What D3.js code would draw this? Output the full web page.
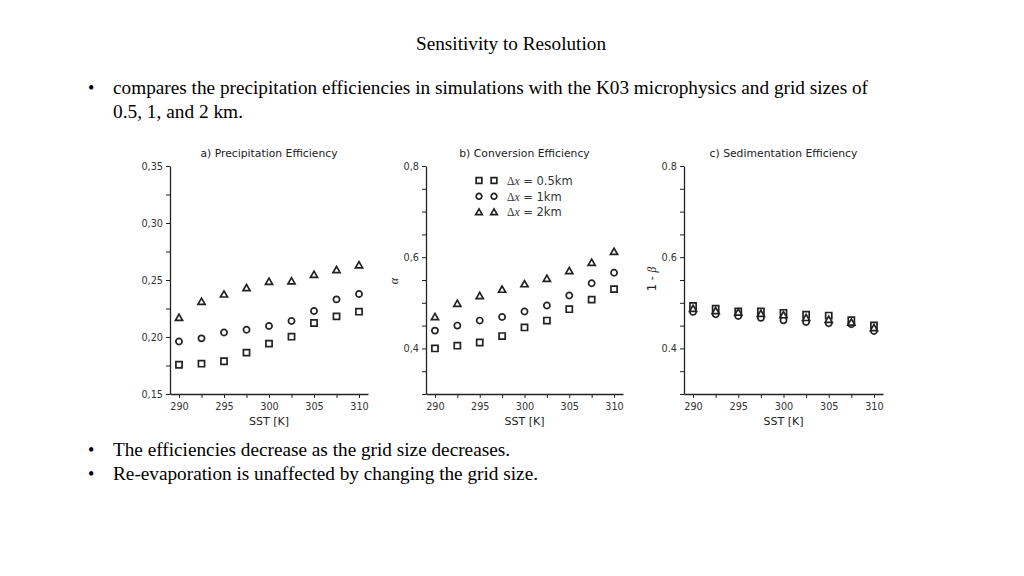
<!DOCTYPE html>
<html><head><meta charset="utf-8">
<script src="https://cdn.jsdelivr.net/npm/d3@7"></script>
<style>
body{margin:0;background:#fff;}
svg{display:block;}
</style></head>
<body>
<svg id="c" width="1024" height="576"></svg>
<script>
// ---- data ----
const sst = [290, 292.5, 295, 297.5, 300, 302.5, 305, 307.5, 310];
const gridLabels = ["0.5km", "1km", "2km"];
const precip05 = [0.1757, 0.1766, 0.1787, 0.1863, 0.1942, 0.2003, 0.2123, 0.2181, 0.2222];
const precip1  = [0.1960, 0.1988, 0.2040, 0.2064, 0.2097, 0.2140, 0.2228, 0.2330, 0.2377];
const precip2  = [0.2170, 0.2310, 0.2374, 0.2430, 0.2485, 0.2490, 0.2547, 0.2588, 0.2630];
const conv05 = [0.400, 0.406, 0.413, 0.427, 0.446, 0.461, 0.486, 0.507, 0.530];
const conv1  = [0.439, 0.450, 0.461, 0.469, 0.481, 0.494, 0.516, 0.543, 0.566];
const conv2  = [0.469, 0.498, 0.515, 0.529, 0.541, 0.553, 0.570, 0.588, 0.612];
const sed05 = [0.493, 0.487, 0.481, 0.481, 0.478, 0.474, 0.472, 0.462, 0.4505];
const sed1  = [0.480, 0.475, 0.471, 0.467, 0.4615, 0.458, 0.455, 0.453, 0.438];
const sed2  = [0.487, 0.482, 0.479, 0.476, 0.473, 0.467, 0.463, 0.457, 0.445];
const xTicks = [290, 292.5, 295, 297.5, 300, 302.5, 305, 307.5, 310];
const xTickLabels = [290, 295, 300, 305, 310];
const yTicksA = [0.15, 0.175, 0.2, 0.225, 0.25, 0.275, 0.3, 0.325, 0.35];
const yLabelsA = [0.15, 0.2, 0.25, 0.3, 0.35];
const yTicksBC = [0.3, 0.35, 0.4, 0.45, 0.5, 0.55, 0.6, 0.65, 0.7, 0.75, 0.8];
const yLabelsBC = [0.4, 0.6, 0.8];

const svg = d3.select("#c");
const serif = "'Liberation Serif','Times New Roman',serif";
const sans = "'DejaVu Sans',sans-serif";
const ink = "#222";

// slide text
svg.append("text").attr("x", 511).attr("y", 50).attr("text-anchor", "middle")
  .attr("textLength", 190).attr("lengthAdjust", "spacingAndGlyphs")
  .style("font-family", serif).style("font-size", "18px").text("Sensitivity to Resolution");
const bullets = [
  {y: 94, lines: [["compares the precipitation efficiencies in simulations with the K03 microphysics and grid sizes of", 755], ["0.5, 1, and 2 km.", 130]]},
  {y: 456, lines: [["The efficiencies decrease as the grid size decreases.", 397]]},
  {y: 480, lines: [["Re-evaporation is unaffected by changing the grid size.", 425]]}
];
bullets.forEach(b => {
  svg.append("text").attr("x", 88).attr("y", b.y).style("font-family", serif).style("font-size", "18px").text("•");
  b.lines.forEach((l, i) => {
    svg.append("text").attr("x", 113).attr("y", b.y + i * 24)
      .attr("textLength", l[1]).attr("lengthAdjust", "spacingAndGlyphs")
      .style("font-family", serif).style("font-size", "18px").text(l[0]);
  });
});

const panels = [
  {left: 170, right: 368, title: "a) Precipitation Efficiency", dom: [0.15, 0.35], ticks: yTicksA, labels: yLabelsA,
   fmt: v => d3.format(".2f")(v).replace(".", ","), series: [precip05, precip1, precip2]},
  {left: 426, right: 623, title: "b) Conversion Efficiency", dom: [0.3, 0.8], ticks: yTicksBC, labels: yLabelsBC,
   fmt: v => d3.format(".1f")(v).replace(".", ","), series: [conv05, conv1, conv2], ylab: "alpha", legend: true},
  {left: 684, right: 883, title: "c) Sedimentation Efficiency", dom: [0.3, 0.8], ticks: yTicksBC, labels: yLabelsBC,
   fmt: v => d3.format(".1f")(v), series: [sed05, sed1, sed2], ylab: "beta"}
];
const topY = 166, bottomY = 394;
const shapes = [d3.symbolSquare, d3.symbolCircle, d3.symbolTriangle];
const sizes = [38, 30, 22];

function drawMarker(g, k, x, y, sc = 1) {
  g.append("path").attr("d", d3.symbol().type(shapes[k]).size(sizes[k] * sc)())
    .attr("transform", `translate(${x},${y + (k === 2 ? 0.6 : 0)})`)
    .attr("fill", "#fff").attr("stroke", ink).attr("stroke-width", 1.7);
}

panels.forEach(p => {
  const x = d3.scaleLinear().domain([289, 311]).range([p.left, p.right]);
  const y = d3.scaleLinear().domain(p.dom).range([bottomY, topY]);
  const g = svg.append("g");
  const ax = g.append("g").attr("transform", `translate(0,${bottomY})`)
    .call(d3.axisBottom(x).tickValues(xTicks).tickSize(4).tickSizeOuter(0)
      .tickFormat(v => xTickLabels.includes(v) ? d3.format("d")(v) : ""));
  const ay = g.append("g").attr("transform", `translate(${p.left},0)`)
    .call(d3.axisLeft(y).tickValues(p.ticks).tickSize(4).tickSizeOuter(0)
      .tickFormat(v => p.labels.some(l => Math.abs(l - v) < 1e-9) ? p.fmt(v) : ""));
  [ax, ay].forEach(a => {
    a.select(".domain").attr("stroke", ink).attr("stroke-width", 1.3);
    a.selectAll(".tick line").attr("stroke", ink).attr("stroke-width", 1);
    a.selectAll("text").style("font-family", sans).style("font-size", "9.7px").attr("fill", "#333");
  });
  ax.selectAll("text").attr("dy", "0.9em");
  g.append("text").attr("x", (p.left + p.right) / 2).attr("y", 157).attr("text-anchor", "middle")
    .style("font-family", sans).style("font-size", "10.8px").attr("fill", ink).text(p.title);
  g.append("text").attr("x", (p.left + p.right) / 2).attr("y", 425).attr("text-anchor", "middle")
    .style("font-family", sans).style("font-size", "11px").attr("fill", ink).text("SST [K]");
  if (p.ylab === "alpha") {
    g.append("text").attr("transform", `translate(398,281) rotate(-90)`).attr("text-anchor", "middle")
      .style("font-family", serif).style("font-style", "italic").style("font-size", "12px").attr("fill", ink).text("α");
  } else if (p.ylab === "beta") {
    const t = g.append("text").attr("transform", `translate(656,279) rotate(-90)`).attr("text-anchor", "middle")
      .style("font-family", sans).style("font-size", "11.5px").attr("fill", ink);
    t.append("tspan").text("1 - ");
    t.append("tspan").style("font-family", serif).style("font-style", "italic").text("β");
  }
  p.series.forEach((s, k) => {
    s.forEach((v, i) => drawMarker(g, k, x(sst[i]), y(v)));
  });
  if (p.legend) {
    gridLabels.forEach((lab, k) => {
      const yy = 180.5 + k * 15.8;
      drawMarker(g, k, 479, yy, 0.85);
      drawMarker(g, k, 494, yy, 0.85);
      const t = g.append("text").attr("x", 507).attr("y", yy + 4.2)
        .style("font-family", sans).style("font-size", "11.5px").attr("fill", "#333");
      t.append("tspan").style("font-family", serif).text("Δ");
      t.append("tspan").style("font-family", serif).style("font-style", "italic").text("x");
      t.append("tspan").text(" = " + lab);
    });
  }
});
</script>
</body></html>
